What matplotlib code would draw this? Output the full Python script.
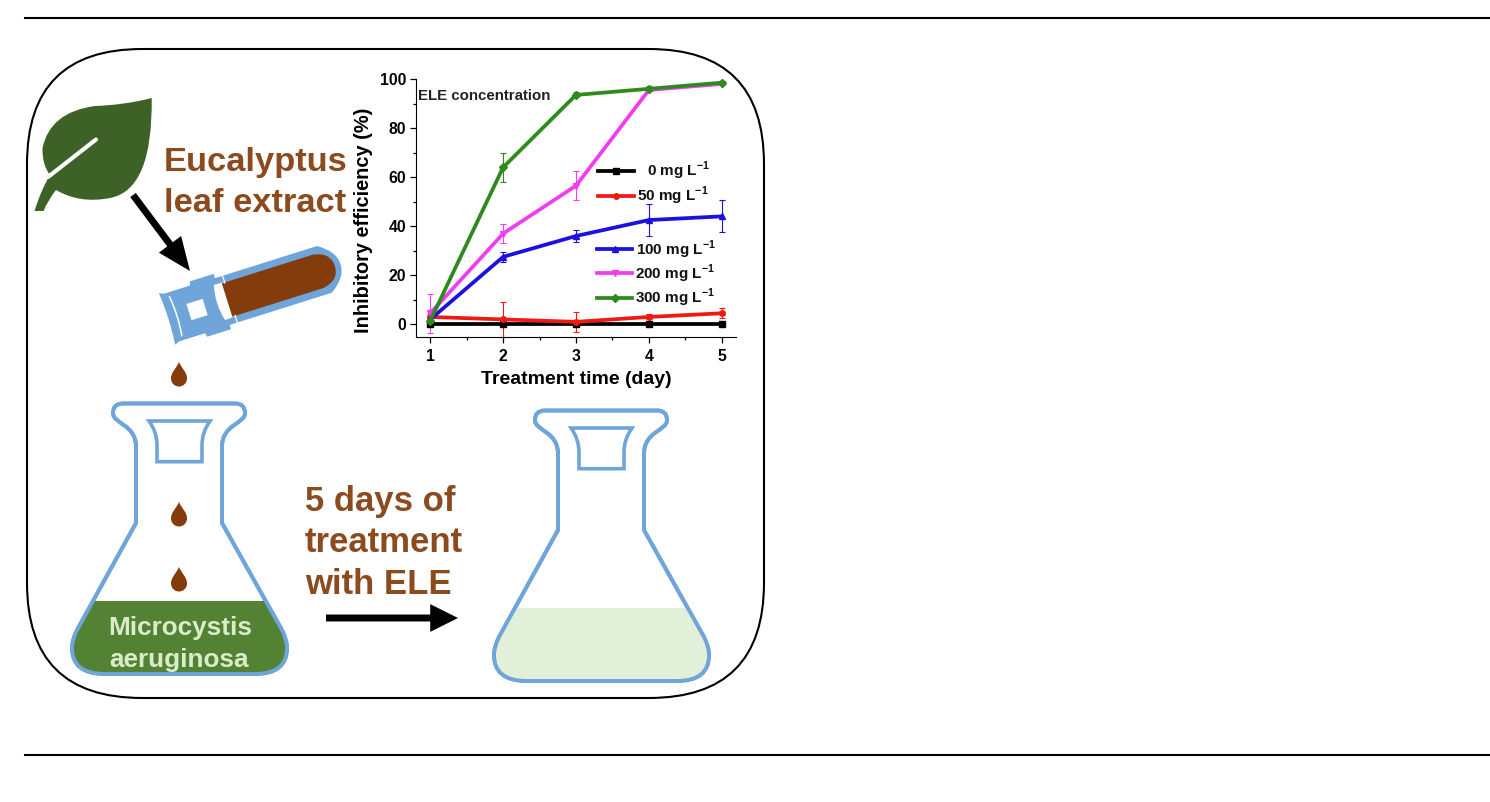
import matplotlib
matplotlib.use('Agg')
import matplotlib.pyplot as plt
from matplotlib.path import Path
from matplotlib.patches import PathPatch, FancyBboxPatch, Rectangle, FancyArrowPatch
from matplotlib.transforms import Affine2D
from matplotlib.ticker import MultipleLocator

plt.rcParams['font.family'] = ['Liberation Sans', 'DejaVu Sans']
plt.rcParams['font.weight'] = 'bold'
plt.rcParams['mathtext.fontset'] = 'custom'
plt.rcParams['mathtext.bf'] = 'Liberation Sans:bold'
plt.rcParams['mathtext.rm'] = 'Liberation Sans:bold'

days = [1, 2, 3, 4, 5]
conc_labels = ['0', '50', '100', '200', '300']
eff_0 = [0, 0, 0, 0, 0]
eff_50 = [3, 2, 1, 3, 4.5]
eff_100 = [2, 27.5, 36, 42.5, 44]
eff_200 = [4.5, 37, 56.5, 95.5, 98]
eff_300 = [1.5, 64, 93.5, 96, 98.5]
err_0 = [0.5, 0.5, 0.5, 0.5, 0.5]
err_50 = [1, 7, 4, 1, 2]
err_100 = [1, 2, 2.5, 6.5, 6.5]
err_200 = [8, 4, 6, 0.5, 0.5]
err_300 = [1, 6, 1, 1, 0.5]

BROWN = '#843c0c'
TEXT_BROWN = '#8c4a1f'
BLUE = '#6fa5d8'
M, L, C, K, Z = Path.MOVETO, Path.LINETO, Path.CURVE3, Path.CURVE4, Path.CLOSEPOLY


def make_path(items):
    verts = [p for _, p in items]
    codes = [c for c, _ in items]
    return Path(verts, codes)


def draw_flask(ax, dx, dy, liquid_top, liquid_color):
    outline = make_path([
        (M, (123, 403.5)), (L, (235, 403.5)), (C, (245, 403.5)), (C, (245, 413)),
        (K, (245, 424)), (K, (222, 424)), (K, (222, 447)),
        (L, (222, 523)), (L, (282, 630)), (C, (287, 640)), (C, (287, 648)),
        (C, (287, 674)), (C, (255, 674)), (L, (105, 674)), (C, (72, 674)), (C, (72, 648)),
        (C, (72, 640)), (C, (77, 630)), (L, (136, 523)), (L, (136, 447)),
        (K, (136, 424)), (K, (113, 424)), (K, (113, 413)),
        (C, (113, 403.5)), (C, (123, 403.5)), (Z, (123, 403.5))])
    stopper = make_path([
        (M, (149, 421)), (L, (210, 421)), (C, (202, 432)), (C, (202, 445)),
        (L, (202, 461.7)), (L, (157, 461.7)), (L, (157, 445)), (C, (157, 432)),
        (C, (149, 421)), (Z, (149, 421))])
    tr = Affine2D().translate(dx, dy) + ax.transData
    body = PathPatch(outline, fc='white', ec=BLUE, lw=2.8, transform=tr, zorder=2)
    ax.add_patch(body)
    liquid = Rectangle((60, liquid_top), 240, 80, fc=liquid_color, ec='none', transform=tr, zorder=2.5)
    ax.add_patch(liquid)
    liquid.set_clip_path(body)
    ax.add_patch(PathPatch(outline, fc='none', ec=BLUE, lw=2.8, transform=tr, zorder=3))
    ax.add_patch(PathPatch(stopper, fc='none', ec=BLUE, lw=2.6, transform=tr, zorder=3))


def draw_drop(ax, x, top):
    drop = make_path([
        (M, (x, top)), (K, (x + 3, top + 7)), (K, (x + 8, top + 10)), (K, (x + 8, top + 16.5)),
        (K, (x + 8, top + 21)), (K, (x + 4.5, top + 24.5)), (K, (x, top + 24.5)),
        (K, (x - 4.5, top + 24.5)), (K, (x - 8, top + 21)), (K, (x - 8, top + 16.5)),
        (K, (x - 8, top + 10)), (K, (x - 3, top + 7)), (K, (x, top)), (Z, (x, top))])
    ax.add_patch(PathPatch(drop, fc=BROWN, ec='none', zorder=3))


def draw_leaf(ax):
    leaf = make_path([
        (M, (151.7, 98)), (C, (125, 105)), (C, (95, 106)), (C, (50, 112)), (C, (42.5, 148)),
        (C, (42, 165)), (C, (50, 175)), (C, (41, 190)), (C, (34.5, 211)), (L, (43.5, 211)),
        (C, (48, 200)), (C, (56, 190)), (C, (80, 204)), (C, (110, 198)),
        (C, (153, 190)), (C, (151.7, 98)), (Z, (151.7, 98))])
    ax.add_patch(PathPatch(leaf, fc='#3d6126', ec='none', zorder=2))
    ax.plot([96, 48], [139.5, 177], color='white', lw=3, solid_capstyle='round', zorder=3)


def draw_tube(ax):
    tr = Affine2D().rotate_deg(-17.5).translate(167, 319) + ax.transData
    shell = make_path([
        (M, (0, -27)), (L, (5, -25)), (L, (32, -25)), (L, (33, -29)), (L, (58, -29)), (L, (58, -24.5)),
        (L, (165, -24.5)), (C, (182, -14)), (C, (182, 0)), (C, (182, 14)), (C, (165, 24.5)),
        (L, (58, 24.5)), (L, (58, 29)), (L, (33, 29)), (L, (32, 25)), (L, (5, 25)),
        (L, (0, 27)), (C, (3, 0)), (C, (0, -27)), (Z, (0, -27))])
    ax.add_patch(PathPatch(shell, fc=BLUE, ec='none', transform=tr, zorder=2))
    gap = make_path([
        (M, (55, -18.5)), (L, (66, -18)), (L, (66, 18)), (L, (55, 18.5)), (C, (50, 0)), (C, (55, -18.5)),
        (Z, (55, -18.5))])
    ax.add_patch(PathPatch(gap, fc='white', ec='none', transform=tr, zorder=2.1))
    slit = make_path([(M, (9, -21)), (C, (12, 0)), (C, (9, 21))])
    ax.add_patch(PathPatch(slit, fc='none', ec='white', lw=1.1, transform=tr, zorder=2.2))
    ax.add_patch(Rectangle((23, -8.5), 17, 17, fc='white', ec='none', transform=tr, zorder=2.3))
    brown = make_path([
        (M, (63, -17.5)), (L, (158, -17.5)), (C, (176, -15)), (C, (176, 0)), (C, (176, 15)), (C, (158, 17.5)),
        (L, (63, 17.5)), (Z, (63, 17.5))])
    ax.add_patch(PathPatch(brown, fc=BROWN, ec='none', transform=tr, zorder=2.4))
    for sign in (-1, 1):
        ax.plot([66, 66], [sign * 17, sign * 25], color='white', lw=0.9, transform=tr, zorder=2.5)


fig = plt.figure(figsize=(14.9, 8.02), dpi=100)
bg = fig.add_axes([0, 0, 1, 1])
bg.set_xlim(0, 1490)
bg.set_ylim(802, 0)
bg.set_aspect('equal')
bg.axis('off')

bg.plot([25, 1490], [18, 18], color='black', lw=1.5)
bg.plot([25, 1490], [755, 755], color='black', lw=1.5)

rad = 115
bg.add_patch(FancyBboxPatch((27 + rad, 49 + rad), 737 - 2 * rad, 649 - 2 * rad,
                            boxstyle='round,pad=%d,rounding_size=%d' % (rad, rad),
                            fc='white', ec='black', lw=1.5, zorder=1))

draw_leaf(bg)
draw_tube(bg)
draw_flask(bg, 0, 0, 601, '#548235')
draw_flask(bg, 422, 7, 601, '#e2f0d9')
draw_drop(bg, 179, 362)
draw_drop(bg, 179, 502)
draw_drop(bg, 179, 567)

bg.add_patch(FancyArrowPatch((133, 195), (190, 271), arrowstyle='simple,head_length=24,head_width=20,tail_width=5',
                             mutation_scale=1, lw=0, color='black', shrinkA=0, shrinkB=0, zorder=3))
bg.add_patch(FancyArrowPatch((326, 618), (458, 618), arrowstyle='simple,head_length=20,head_width=20,tail_width=5',
                             mutation_scale=1, lw=0, color='black', shrinkA=0, shrinkB=0, zorder=3))

bg.text(164, 163, 'Eucalyptus', color=TEXT_BROWN, fontsize=24.8, va='center', ha='left', zorder=4)
bg.text(164, 204, 'leaf extract', color=TEXT_BROWN, fontsize=24.8, va='center', ha='left', zorder=4)
bg.text(305, 501, '5 days of', color=TEXT_BROWN, fontsize=25, va='center', ha='left', zorder=4)
bg.text(305, 543, 'treatment', color=TEXT_BROWN, fontsize=25, va='center', ha='left', zorder=4)
bg.text(305, 584, 'with ELE', color=TEXT_BROWN, fontsize=25, va='center', ha='left', zorder=4)
bg.text(180, 628, 'Microcystis', color='#d8edc8', fontsize=18.8, va='center', ha='center', zorder=4)
bg.text(179, 660, 'aeruginosa', color='#d8edc8', fontsize=18.8, va='center', ha='center', zorder=4)

# chart inset, placed by its pixel box
ax = fig.add_axes([416 / 1490, (802 - 336.7) / 802, 320 / 1490, 257.7 / 802])
ax.patch.set_alpha(0)
series = [(eff_0, err_0, 'black', 's'),
          (eff_50, err_50, '#f01a14', 'o'),
          (eff_100, err_100, '#1a10e0', '^'),
          (eff_200, err_200, '#f23cf0', 'v'),
          (eff_300, err_300, '#2f8a1e', 'D')]
for vals, errs, col, mk in series:
    ax.errorbar(days, vals, yerr=errs, color=col, marker=mk, ms=4, lw=2.7,
                elinewidth=0.8, capsize=2, capthick=0.8, clip_on=False)

ax.set_xlim(0.804, 5.196)
ax.set_ylim(-5.05, 100)
ax.spines['top'].set_visible(False)
ax.spines['right'].set_visible(False)
ax.xaxis.set_major_locator(MultipleLocator(1))
ax.xaxis.set_minor_locator(MultipleLocator(0.5))
ax.yaxis.set_major_locator(MultipleLocator(20))
ax.yaxis.set_minor_locator(MultipleLocator(10))
ax.tick_params(which='major', length=4, width=0.9, labelsize=11.3, pad=3)
ax.tick_params(axis='x', which='major', pad=5)
ax.tick_params(which='minor', length=2.2, width=0.9)
ax.set_xlabel('Treatment time (day)', fontsize=14, fontweight='bold', labelpad=5)
ax.set_ylabel('Inhibitory efficiency (%)', fontsize=14.4, fontweight='bold')
ax.yaxis.set_label_coords(-0.135, 0.451)

# legend keys sit in the pixel layer, the gaps are uneven in the original
key_y = [170.7, 195.7, 249, 273, 297.7]
key_x = [(598, 634), (598, 634), (597, 632), (597, 632), (597, 632)]
text_x = [647, 637, 636, 635, 635]
for i, (vals, errs, col, mk) in enumerate(series):
    bg.plot(key_x[i], [key_y[i]] * 2, color=col, lw=2.7, zorder=5)
    bg.plot([sum(key_x[i]) / 2], [key_y[i]], color=col, marker=mk, ms=4, zorder=5)
    bg.text(text_x[i], key_y[i] + 0.5, conc_labels[i] + r' mg L$^{\mathbf{-1}}$', fontsize=11, color='#111111',
            va='center', ha='left', zorder=5)
bg.text(418, 96.5, 'ELE concentration', fontsize=10.8, color='#222222', va='center', ha='left', zorder=5)

fig.savefig('out.png', dpi=100)
